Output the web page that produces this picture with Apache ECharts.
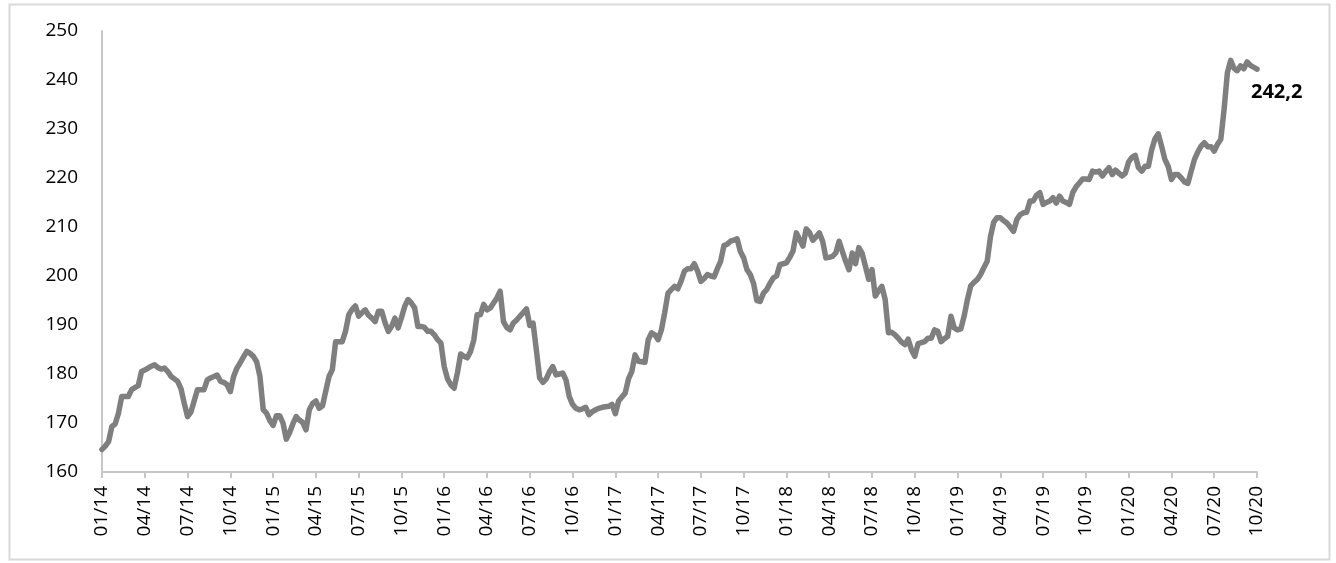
<!DOCTYPE html>
<html>
<head>
<meta charset="utf-8">
<script src="https://cdn.jsdelivr.net/npm/echarts@6/dist/echarts.min.js"></script>
<style>
  html, body { margin: 0; padding: 0; background: #ffffff; }
  #chart { width: 1336px; height: 563px; }
</style>
</head>
<body>
<div id="chart"></div>
<script>
// Quarter tick labels (one every 13 weekly points)
const tickLabels = [
  '01/14','04/14','07/14','10/14',
  '01/15','04/15','07/15','10/15',
  '01/16','04/16','07/16','10/16',
  '01/17','04/17','07/17','10/17',
  '01/18','04/18','07/18','10/18',
  '01/19','04/19','07/19','10/19',
  '01/20','04/20','07/20','10/20'
];
const weeksPerTick = 13;

// Weekly values (one row per quarter)
const values = [
  164.6,165.3,166.2,169.3,169.8,172,175.4,175.4,175.4,176.8,177.2,177.6,180.5,
  180.8,181.2,181.6,181.9,181.3,181,181.2,180.5,179.5,179,178.5,177,174,
  171.3,172.2,174.5,176.8,176.8,176.8,178.8,179.2,179.5,179.8,178.5,178.3,177.8,
  176.4,179.5,181.2,182.3,183.5,184.6,184.2,183.6,182.5,179.5,172.7,172,170.5,
  169.5,171.5,171.5,170,166.7,168,169.8,171.3,170.6,170.1,168.6,172.7,174,
  174.5,173,173.5,176.5,179.5,180.9,186.6,186.6,186.6,188.7,192.1,193.2,193.9,
  191.8,192.5,193.1,192,191.4,190.7,192.8,192.8,190.5,188.7,189.7,191.4,189.4,
  191.5,193.8,195.2,194.5,193.5,189.7,189.7,189.5,188.7,188.7,188,187,186.3,
  181.5,179,177.8,177.1,180.2,184.1,183.6,183.3,184.6,187,192.1,192.1,194.2,
  193.1,193.5,194.5,195.5,196.9,190.7,189.5,189,190.4,191,191.8,192.5,193.3,
  189.9,190.4,184.9,179.2,178.3,179,180.5,181.5,179.8,180,180.2,178.8,175.4,
  173.8,173,172.7,172.9,173.2,171.7,172.3,172.7,173,173.2,173.3,173.4,173.8,
  171.9,174.5,175.3,176.1,179,180.5,183.9,182.6,182.5,182.4,187,188.4,188,
  187,189,192.5,196.5,197.2,197.9,197.4,199,201,201.5,201.5,202.5,201,
  198.9,199.5,200.3,200,199.8,201.5,203,206.2,206.5,207.1,207.3,207.6,205,
  203.7,201.3,200.3,198.5,195,194.8,196.5,197.2,198.5,199.6,200,202.3,202.5,
  202.7,203.8,205.1,208.8,207.5,206.1,209.6,208.9,207.3,208,208.8,207.1,203.7,
  203.8,204,204.7,207.1,205,203,201.3,204.7,202.5,205.8,204.6,202,199.3,
  201.3,195.9,197,197.9,195.2,188.4,188.5,188,187.3,186.5,186,187.1,184.9,
  183.6,186.2,186.4,186.6,187.3,187.3,189,188.7,186.6,187.2,187.7,191.8,189.4,
  189,189.2,191.8,195.2,198,198.7,199.3,200.3,201.7,203,208,211,211.9,
  211.9,211.3,210.8,210,209.1,211.5,212.5,212.9,213,215.3,215.3,216.5,217,
  214.6,215,215.3,216,214.9,216.3,215.3,215,214.6,217,218.2,219,219.8,
  219.8,219.7,221.4,221.2,221.4,220.4,221.3,222.1,220.7,221.6,221,220.4,221,
  223.3,224.2,224.6,222.1,221.4,222.4,222.4,225.8,228,229,226.5,223.8,222.4,
  219.7,220.7,220.7,220,219.2,218.9,221.4,223.8,225.3,226.5,227.2,226.4,226.4,
  225.5,226.9,227.9,234,241.5,244,242.4,241.9,242.9,242.3,243.7,243,242.6,
  242.2
];

// Weekly categories (index of week since first week of 01/14)
const categories = values.map((_, i) => String(i));

const yMin = 160, yMax = 250, yStep = 10;
const FONT = '"Open Sans", "Noto Sans", sans-serif';

const chart = echarts.init(document.getElementById('chart'), null, { renderer: 'canvas' });
chart.setOption({
  animation: false,
  backgroundColor: '#ffffff',
  graphic: [{
    type: 'rect',
    left: 7, top: 2,
    shape: { width: 1320, height: 555 },
    style: { fill: 'none', stroke: '#d9d9d9', lineWidth: 2 },
    silent: true
  }],
  grid: { left: 102, right: 79, top: 31, bottom: 91, containLabel: false },
  xAxis: {
    type: 'category',
    data: categories,
    boundaryGap: false,
    axisLine: { show: true, lineStyle: { color: '#c6c6c6', width: 2 } },
    axisTick: {
      show: true, length: 6,
      interval: (i) => i % weeksPerTick === 0,
      lineStyle: { color: '#c6c6c6', width: 2 }
    },
    axisLabel: {
      interval: (i) => i % weeksPerTick === 0,
      rotate: 90,
      margin: 14,
      fontFamily: FONT,
      fontSize: 19,
      color: '#000000',
      formatter: (v, i) => (i % weeksPerTick === 0 ? tickLabels[i / weeksPerTick] : '')
    },
    splitLine: { show: false }
  },
  yAxis: {
    type: 'value',
    min: yMin, max: yMax, interval: yStep,
    axisLine: { show: true, lineStyle: { color: '#c6c6c6', width: 2 } },
    axisTick: { show: false },
    splitLine: { show: false },
    axisLabel: { margin: 24, fontFamily: FONT, fontSize: 19, color: '#000000' }
  },
  series: [{
    type: 'line',
    data: values,
    showSymbol: false,
    symbol: 'none',
    lineStyle: { color: '#7f7f7f', width: 5.5, join: 'round', cap: 'round' },
    endLabel: {
      show: true,
      formatter: (p) => p.value.toFixed(1).replace('.', ','),
      offset: [-14, 23],
      fontFamily: FONT,
      fontWeight: 'bold',
      fontSize: 20,
      color: '#000000'
    }
  }]
});
</script>
</body>
</html>
